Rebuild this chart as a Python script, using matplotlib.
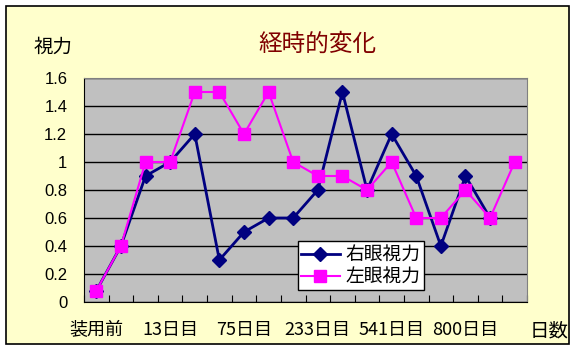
import matplotlib
matplotlib.use("Agg")
import matplotlib.pyplot as plt
from matplotlib.patches import Rectangle
import numpy as np

plt.rcParams['font.family'] = ['Noto Sans CJK JP', 'DejaVu Sans']

categories = ["装用前", "", "", "13日目", "", "", "75日目", "", "", "233日目", "", "",
              "541日目", "", "", "800日目", "", ""]
right_eye = [0.08, 0.4, 0.9, 1.0, 1.2, 0.3, 0.5, 0.6, 0.6, 0.8, 1.5, 0.8, 1.2, 0.9, 0.4, 0.9, 0.6, np.nan]
left_eye = [0.08, 0.4, 1.0, 1.0, 1.5, 1.5, 1.2, 1.5, 1.0, 0.9, 0.9, 0.8, 1.0, 0.6, 0.6, 0.8, 0.6, 1.0]
yticks = [0, 0.2, 0.4, 0.6, 0.8, 1.0, 1.2, 1.4, 1.6]
ytick_labels = ["0", "0.2", "0.4", "0.6", "0.8", "1", "1.2", "1.4", "1.6"]

W, H = 575, 349
fig = plt.figure(figsize=(W / 100, H / 100), dpi=100, facecolor="white")
bg = fig.add_axes([0, 0, 1, 1], zorder=-10)
bg.set_xlim(0, W)
bg.set_ylim(H, 0)
bg.axis("off")
bg.add_patch(Rectangle((6, 6), 563, 338, facecolor="#FFFFCC", edgecolor="black", linewidth=1.2))

ax = fig.add_axes([84 / W, 1 - 302 / H, 443 / W, 224 / H])
ax.set_facecolor("#C0C0C0")
for s in ["top", "right"]:
    ax.spines[s].set_color("#808080")
for s in ["left", "bottom"]:
    ax.spines[s].set_color("black")

x = np.arange(len(categories))
ax.plot(x, right_eye, color="#000080", lw=2, marker="D", markersize=7, label="右眼視力", zorder=3)
ax.plot(x, left_eye, color="#FF00FF", lw=1.5, marker="s", markersize=9, label="左眼視力", zorder=4)

ax.set_xlim(-0.5, len(categories) - 0.5)
ax.set_ylim(0, 1.6)
ax.set_yticks(yticks)
ax.set_yticklabels(ytick_labels, fontsize=12, family=['Liberation Sans', 'DejaVu Sans'])
ax.yaxis.grid(True, color="black", lw=1)
ax.set_axisbelow(True)
ax.tick_params(axis="y", length=0, pad=12)

ax.set_xticks(np.arange(-0.5, len(categories), 1))
ax.set_xticklabels([])
ax.tick_params(axis="x", which="major", direction="in", length=5, color="black")
idx = [i for i, c in enumerate(categories) if c]
ax.set_xticks(idx, minor=True)
ax.set_xticklabels([categories[i] for i in idx], minor=True, fontsize=13)
ax.tick_params(axis="x", which="minor", length=0, pad=14)

leg = ax.legend(loc="lower left", bbox_to_anchor=(0.483, 0.054), borderaxespad=0,
                fancybox=False, framealpha=1, edgecolor="black", fontsize=13.5,
                handlelength=2.1, borderpad=0.15, labelspacing=0.05, handletextpad=0.3)
leg.get_frame().set_linewidth(1)

fig.text(317 / W, 1 - 44 / H, "経時的変化", color="#800000", fontsize=17, ha="center", va="center")
fig.text(53 / W, 1 - 47 / H, "視力", color="black", fontsize=14, ha="center", va="center")
fig.text(549 / W, 1 - 331 / H, "日数", color="black", fontsize=14, ha="center", va="center")

fig.savefig("out.png", dpi=100, facecolor="white")
